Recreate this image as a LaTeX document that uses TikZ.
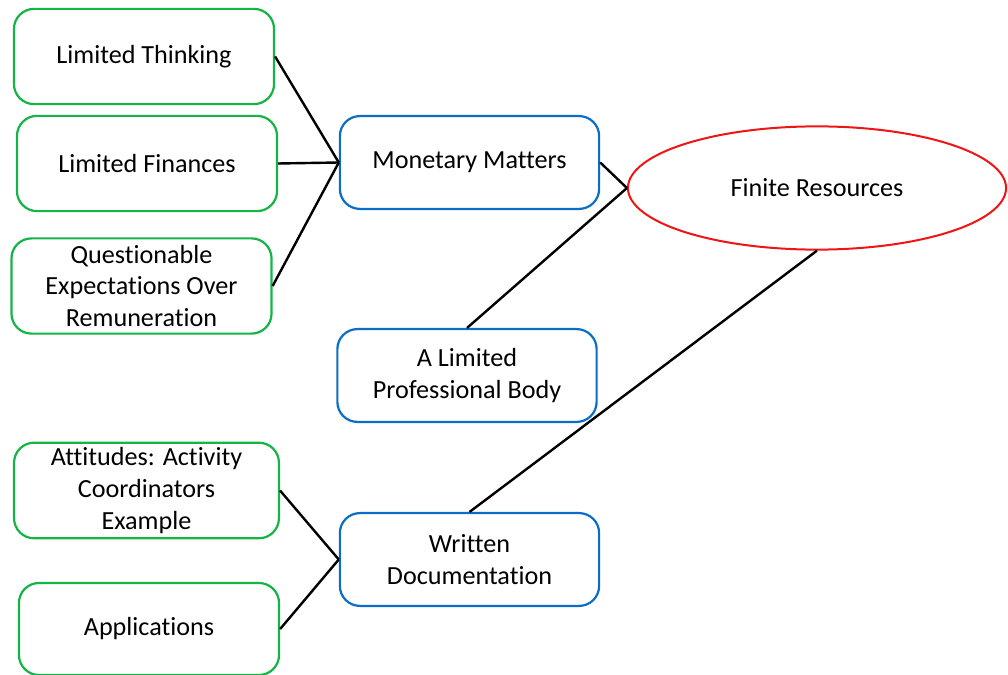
\documentclass[tikz,border=0pt]{standalone}
\usepackage{fontspec}
\setmainfont{Carlito}[RawFeature={-liga}]
\usetikzlibrary{shapes.geometric}
\definecolor{causegreen}{RGB}{20,180,70}
\definecolor{topicblue}{RGB}{10,110,200}
\definecolor{rootred}{RGB}{240,20,20}
\tikzset{
    cause/.style={draw=causegreen, line width=0.055cm, rounded corners=0.5cm,
        align=center, minimum width=6.5cm, minimum height=2.38cm},
    topic/.style={draw=topicblue, line width=0.055cm, rounded corners=0.5cm,
        align=center, minimum width=6.48cm, minimum height=2.32cm},
    link/.style={line width=0.06cm, black}
}
\begin{document}
\begin{tikzpicture}[x=0.025cm, y=-0.025cm, font=\fontsize{18.6}{22.7}\selectfont]
    \useasboundingbox (0,0) rectangle (1008,675);

    \node[cause] (thinking) at (144,56.5) {Limited Thinking};
    \node[cause] (finances) at (147,163.5) {Limited Finances};
    \node[cause] (expect) at (141.5,286) {Questionable\\ Expectations Over\\ Remuneration};
    \node[cause, minimum width=6.62cm] (attitudes) at (146.5,490.5) {Attitudes: Activity\\ Coordinators\\ Example};
    \node[cause, minimum height=2.3cm] (applications) at (149,629) {Applications};

    \node[topic] (monetary) at (469.5,162.5) {Monetary Matters};
    \node[topic] (body) at (467,375.5) {A Limited\\ Professional Body};
    \node[topic] (written) at (469.5,559.5) {Written\\ Documentation};

    \node[draw=rootred, line width=0.05cm, ellipse, minimum width=9.45cm,
        minimum height=3.08cm, inner sep=0pt] (finite) at (817,188) {Finite Resources};

    % causes to topics
    \draw [link] (thinking.east) -- (monetary.west);
    \draw [link] (finances.east) -- (monetary.west);
    \draw [link] (expect.east) -- (monetary.west);
    \draw [link] (attitudes.east) -- (written.west);
    \draw [link] (applications.east) -- (written.west);

    % topics to root
    \draw [link] (monetary.east) -- (finite.west);
    \draw [link] (body.north) -- (finite.west);
    \draw [link] (written.north) -- (finite.south);
\end{tikzpicture}
\end{document}
